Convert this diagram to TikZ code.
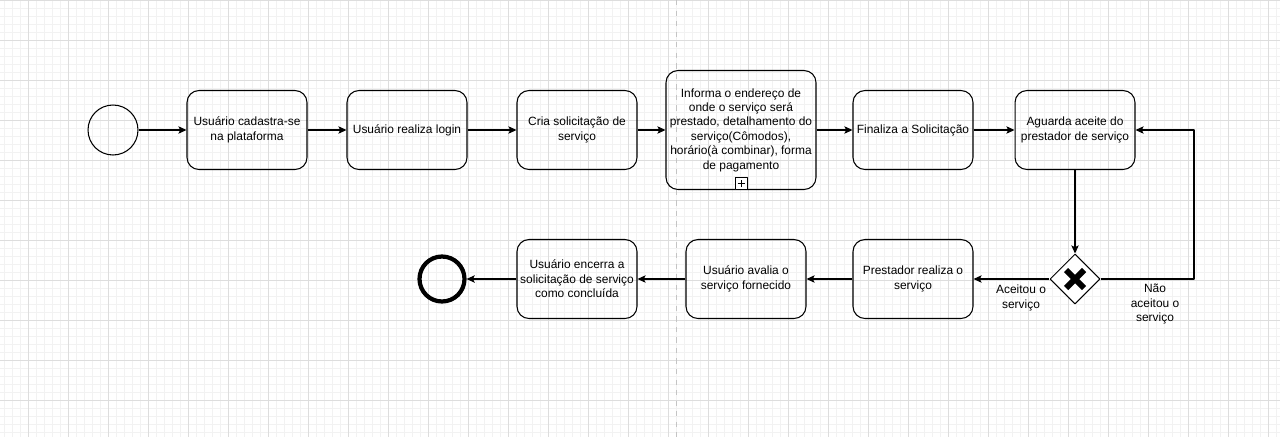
\documentclass[tikz,border=0pt]{standalone}
\usepackage{fontspec}
\setmainfont{Liberation Sans}
\usetikzlibrary{shapes.geometric,arrows.meta,positioning}
\definecolor{gridminor}{HTML}{F2F2F2}
\definecolor{gridmajor}{HTML}{DDDDDD}
\definecolor{pagebreak}{HTML}{C4C4C4}
\begin{document}
\begin{tikzpicture}[x=0.02cm, y=-0.02cm, line join=round, >={Stealth[length=4.6pt,width=4.2pt,inset=1pt]},
  task/.style={draw, rounded corners=0.24cm, line width=0.6pt, minimum width=2.4cm, minimum height=1.58cm,
    align=center, inner sep=1pt, font=\fontsize{6.8}{8.2}\selectfont},
  flow/.style={->, line width=0.6pt},
  lbl/.style={align=center, inner sep=0pt, font=\fontsize{6.8}{8.2}\selectfont}]
  % Canvas size (pixels of the reference)
  \def\xmax{1280} \def\ymax{437}
  \useasboundingbox (0,0) rectangle (\xmax,\ymax);

  % Background grid
  \foreach \x in {4,12,...,1280} \draw[gridminor, line width=0.4pt] (\x,0) -- (\x,\ymax);
  \foreach \y in {0,8,...,437} \draw[gridminor, line width=0.4pt] (0,\y) -- (\xmax,\y);
  \foreach \x in {28,68,...,1280} \draw[gridmajor, line width=0.4pt] (\x,0) -- (\x,\ymax);
  \foreach \y in {0,40,...,437} \draw[gridmajor, line width=0.4pt] (0,\y) -- (\xmax,\y);
  \draw[pagebreak, dashed, line width=0.4pt] (676,0) -- (676,\ymax);

  % Start and end events
  \node[draw, circle, line width=0.6pt, minimum size=1cm, inner sep=0pt] (start) at (113,130) {};
  \node[draw, circle, line width=2.4pt, minimum size=0.9cm, inner sep=0pt] (fim) at (442,279) {};

  % Tasks, upper row
  \node[task] (cadastro) at (247,130) {Usuário cadastra-se\\na plataforma};
  \node[task] (login) at (407,130) {Usuário realiza login};
  \node[task] (cria) at (577,130) {Cria solicitação de\\serviço};
  \node[task, minimum width=3cm, minimum height=2.38cm] (informa) at (741,130)
    {Informa o endereço de\\onde o serviço será\\prestado, detalhamento do\\serviço(Cômodos),\\horário(à combinar), forma\\de pagamento};
  \node[task] (finaliza) at (913,130) {Finaliza a Solicitação};
  \node[task] (aguarda) at (1075,130) {Aguarda aceite do\\prestador de serviço};

  % Sub-process marker
  \node[draw, fill=white, line width=0.5pt, minimum size=0.24cm, inner sep=0pt, anchor=south] (plus) at (informa.south) {};
  \draw[line width=0.45pt] (plus.center) ++(-3.5,0) -- ++(7,0);
  \draw[line width=0.45pt] (plus.center) ++(0,-3.5) -- ++(0,7);

  % Gateway
  \node[draw, diamond, line width=0.6pt, minimum size=1cm, inner sep=0pt, fill=white] (gw) at (1075,279) {};
  \draw[line width=3.4pt] (gw.center) ++(-9,-9) -- ++(18,18);
  \draw[line width=3.4pt] (gw.center) ++(-9,9) -- ++(18,-18);

  % Tasks, lower row
  \node[task] (realiza) at (913,279) {Prestador realiza o\\serviço};
  \node[task] (avalia) at (746,279) {Usuário avalia o\\serviço fornecido};
  \node[task] (encerra) at (577,279) {Usuário encerra a\\solicitação de serviço\\como concluída};

  % Sequence flows
  \draw[flow] (start) -- (cadastro);
  \draw[flow] (cadastro) -- (login);
  \draw[flow] (login) -- (cria);
  \draw[flow] (cria) -- (informa);
  \draw[flow] (informa.east |- finaliza.west) -- (finaliza);
  \draw[flow] (finaliza) -- (aguarda);
  \draw[flow] (aguarda) -- (gw);
  \coordinate (volta) at (1194,130);
  \draw[flow] (gw.east) -| (volta) -- (aguarda.east);
  \draw[flow] (gw.west) -- (realiza);
  \draw[flow] (realiza) -- (avalia);
  \draw[flow] (avalia) -- (encerra);
  \draw[flow] (encerra) -- (fim);

  % Gateway labels
  \node[lbl] (sim) at (1021,298) {Aceitou o\\serviço};
  \node[lbl] (nao) at (1155,304) {Não\\aceitou o\\serviço};
\end{tikzpicture}
\end{document}
